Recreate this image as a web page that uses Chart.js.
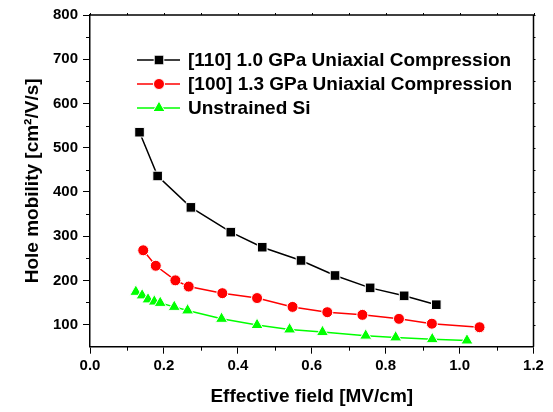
<!DOCTYPE html>
<html>
<head>
<meta charset="utf-8">
<script src="https://cdn.jsdelivr.net/npm/chart.js@4"></script>
<style>
  html, body { margin: 0; padding: 0; background: #fff; }
  #wrap { width: 553px; height: 412px; }
</style>
</head>
<body>
<div id="wrap"><canvas id="chart" width="553" height="412"></canvas></div>
<script>
// Values
const field110 = [0.134, 0.183, 0.273, 0.381, 0.466, 0.571, 0.663, 0.758, 0.850, 0.937];
const mobility110 = [535, 436, 365, 309, 275, 245, 211, 183, 165, 145];

const field100 = [0.144, 0.178, 0.231, 0.267, 0.358, 0.452, 0.548, 0.642, 0.737, 0.836, 0.925, 1.054];
const mobility100 = [268, 233, 200, 186, 171, 160, 140, 128, 122, 113, 102, 94];

const fieldSi = [0.124, 0.141, 0.157, 0.174, 0.190, 0.228, 0.264, 0.356, 0.452, 0.540, 0.629, 0.746, 0.827, 0.926, 1.020];
const mobilitySi = [174, 166, 157, 152, 149, 140, 132, 113, 99, 89, 83, 75, 71, 67, 64];

const seriesLabels = [
  '[110] 1.0 GPa Uniaxial Compression',
  '[100] 1.3 GPa Uniaxial Compression',
  'Unstrained Si'
];

const xTicks = [0, 0.2, 0.4, 0.6, 0.8, 1.0, 1.2];
const xMinor = [0.1, 0.3, 0.5, 0.7, 0.9, 1.1];
const yTicks = [100, 200, 300, 400, 500, 600, 700, 800];
const yMinor = [150, 250, 350, 450, 550, 650, 750];

const FONT = "'Liberation Sans', Arial, Helvetica, sans-serif";

function toPoints(xs, ys) {
  return xs.map((x, i) => ({ x: x, y: ys[i] }));
}

// Minor ticks plus the top/right frame with small mirror ticks
const frameTicks = {
  id: 'frameTicks',
  afterDraw(chart) {
    const ctx = chart.ctx;
    const a = chart.chartArea;
    const xs = chart.scales.x;
    const ys = chart.scales.y;
    ctx.save();
    ctx.strokeStyle = '#000';
    ctx.lineWidth = 1.5;
    ctx.beginPath();
    ctx.moveTo(a.left, a.top);
    ctx.lineTo(a.right, a.top);
    ctx.lineTo(a.right, a.bottom);
    ctx.stroke();

    ctx.lineWidth = 1;
    ctx.beginPath();
    xMinor.forEach(v => {
      const px = Math.round(xs.getPixelForValue(v)) + 0.5;
      ctx.moveTo(px, a.bottom); ctx.lineTo(px, a.bottom + 4);
    });
    yMinor.forEach(v => {
      const py = Math.round(ys.getPixelForValue(v)) + 0.5;
      ctx.moveTo(a.left, py); ctx.lineTo(a.left - 4, py);
    });
    // mirror ticks on top and right
    xTicks.concat(xMinor).forEach(v => {
      const px = Math.round(xs.getPixelForValue(v)) + 0.5;
      ctx.moveTo(px, a.top); ctx.lineTo(px, a.top - 2);
    });
    yTicks.concat(yMinor).forEach(v => {
      const py = Math.round(ys.getPixelForValue(v)) + 0.5;
      ctx.moveTo(a.right, py); ctx.lineTo(a.right + 2, py);
    });
    ctx.stroke();
    ctx.restore();
  }
};

// Origin-style legend: line with marker, then label
const lineLegend = {
  id: 'lineLegend',
  afterDatasetsDraw(chart) {
    const ctx = chart.ctx;
    ctx.save();
    ctx.font = 'bold 19px ' + FONT;
    ctx.textBaseline = 'middle';
    chart.data.datasets.forEach((ds, i) => {
      const y = 60 + i * 24;
      ctx.strokeStyle = ds.borderColor;
      ctx.lineWidth = 1.5;
      ctx.beginPath();
      ctx.moveTo(137, y);
      ctx.lineTo(180, y);
      ctx.stroke();
      ctx.fillStyle = ds.pointBackgroundColor;
      ctx.strokeStyle = ds.pointBorderColor;
      ctx.lineWidth = ds.pointBorderWidth;
      Chart.helpers.drawPoint(ctx, {
        pointStyle: ds.pointStyle,
        radius: ds.pointRadius,
        borderWidth: ds.pointBorderWidth,
        rotation: 0
      }, 159, y);
      ctx.fillStyle = '#000';
      ctx.fillText(ds.label, 188, y + 1);
    });
    ctx.restore();
  }
};

function makeSeries(label, pts, color, style, radius) {
  return {
    label: label,
    data: pts,
    showLine: true,
    borderColor: color,
    borderWidth: 1.5,
    tension: 0,
    pointStyle: style,
    pointRadius: radius,
    pointHoverRadius: radius,
    pointBackgroundColor: color,
    pointBorderColor: '#fff',
    pointBorderWidth: 1
  };
}

const ctx = document.getElementById('chart').getContext('2d');
new Chart(ctx, {
  type: 'scatter',
  data: {
    datasets: [
      makeSeries(seriesLabels[0], toPoints(field110, mobility110), '#000000', 'rect', 6.8),
      makeSeries(seriesLabels[1], toPoints(field100, mobility100), '#ff0000', 'circle', 5.5),
      makeSeries(seriesLabels[2], toPoints(fieldSi, mobilitySi), '#00ff00', 'triangle', 7)
    ]
  },
  plugins: [frameTicks, lineLegend],
  options: {
    responsive: false,
    animation: false,
    events: [],
    layout: { padding: { top: 15, right: 19.5, left: 0, bottom: 0 } },
    plugins: {
      legend: { display: false },
      tooltip: { enabled: false }
    },
    scales: {
      x: {
        type: 'linear',
        min: 0,
        max: 1.2,
        afterBuildTicks: s => { s.ticks = xTicks.map(v => ({ value: v })); },
        afterFit: s => { s.height = 65.3; },
        grid: { drawOnChartArea: false, tickLength: 7, tickColor: '#000', tickWidth: 1 },
        border: { color: '#000', width: 1.5 },
        ticks: {
          color: '#000',
          padding: 3,
          font: { family: FONT, size: 15, weight: 'bold' },
          callback: v => v.toFixed(1)
        },
        title: {
          display: true,
          text: 'Effective field [MV/cm]',
          color: '#000',
          font: { family: FONT, size: 19, weight: 'bold' },
          padding: { top: 0, bottom: 4 }
        }
      },
      y: {
        type: 'linear',
        min: 50,
        max: 800,
        afterBuildTicks: s => { s.ticks = yTicks.map(v => ({ value: v })); },
        afterFit: s => { s.width = 90; },
        grid: { drawOnChartArea: false, tickLength: 7, tickColor: '#000', tickWidth: 1 },
        border: { color: '#000', width: 1.5 },
        ticks: {
          color: '#000',
          padding: 5,
          font: { family: FONT, size: 15, weight: 'bold' }
        },
        title: {
          display: true,
          text: 'Hole mobility [cm²/V/s]',
          color: '#000',
          font: { family: FONT, size: 19, weight: 'bold' },
          padding: { top: 21, bottom: 0 }
        }
      }
    }
  }
});
</script>
</body>
</html>
